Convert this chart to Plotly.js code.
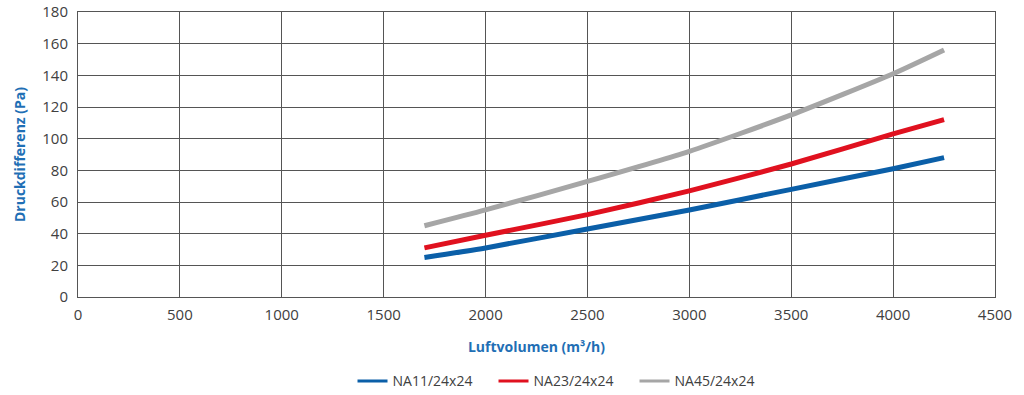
<!DOCTYPE html>
<html><head><meta charset="utf-8">
<script src="https://cdn.plot.ly/plotly-3.0.1.min.js"></script>
<style>html,body{margin:0;padding:0;background:#fff;}#chart{width:1024px;height:395px;}</style>
</head><body><div id="chart"></div>
<script>
const airflow = [1700, 2000, 2500, 3000, 3500, 4000, 4250];
const na11 = [25, 31, 43, 55, 68, 81, 88];
const na23 = [31, 39, 52, 67, 84, 103, 112];
const na45 = [45, 55, 73, 92, 115, 141, 156];
const seriesNames = ['NA11/24x24', 'NA23/24x24', 'NA45/24x24'];
const colors = ['#0b5fa8', '#e0111f', '#a6a6a6'];
const vals = [na11, na23, na45];
const traces = vals.map((v, i) => ({
  x: airflow, y: v, type: 'scatter', mode: 'lines', name: seriesNames[i], showlegend: false,
  line: {color: colors[i], width: 5, shape: 'spline', smoothing: 0.6}
}));
const legendTraces = seriesNames.map((n, i) => ({
  x: [null], y: [null], type: 'scatter', mode: 'lines', name: n,
  line: {color: colors[i], width: 3}
}));
const font = 'Open Sans, Noto Sans, sans-serif';
Plotly.newPlot('chart', traces.concat(legendTraces), {
  width: 1024, height: 395,
  margin: {l: 78, r: 29, t: 12, b: 98, autoexpand: false},
  paper_bgcolor: '#fff', plot_bgcolor: '#fff',
  font: {family: font, size: 15, color: '#404040'},
  showlegend: true,
  legend: {orientation: 'h', x: 0.53, xanchor: 'center', y: -0.24, yanchor: 'top',
    font: {size: 14, color: '#404040'}, itemwidth: 30, entrywidth: 96, entrywidthmode: 'pixels'},
  xaxis: {range: [0, 4500], dtick: 500, tick0: 0, showgrid: true, gridcolor: '#555', gridwidth: 1,
    showline: true, linecolor: '#555', mirror: true, zeroline: false, ticks: '', ticklen: 0,
    ticklabelstandoff: 4, tickfont: {size: 15},
    title: {text: 'Luftvolumen (m³/h)', font: {size: 14, color: '#1f6fb5', weight: 'bold'}, standoff: 19}},
  yaxis: {range: [0, 180], dtick: 20, tick0: 0, showgrid: true, gridcolor: '#555', gridwidth: 1,
    showline: true, linecolor: '#555', mirror: true, zeroline: false, ticks: '',
    ticklabelstandoff: 6, tickfont: {size: 15},
    title: {text: 'Druckdifferenz (Pa)', font: {size: 14, color: '#1f6fb5', weight: 'bold'}, standoff: 13}}
}, {displayModeBar: false, staticPlot: true});
</script></body></html>
